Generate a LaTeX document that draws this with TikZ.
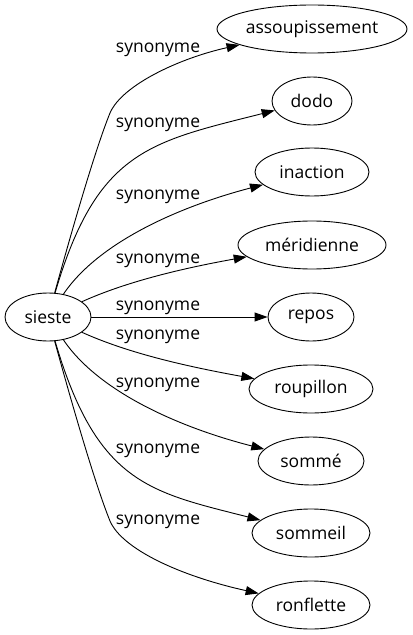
\documentclass[tikz,border=0pt]{standalone}
\usepackage{fontspec}
\setmainfont{Open Sans}
\usetikzlibrary{arrows.meta,shapes.geometric}
\begin{document}
\begin{tikzpicture}[x=1bp,y=-1bp,
  word/.style={draw,ellipse,inner sep=0pt,minimum height=48bp,line width=0.9bp,font=\fontsize{17.5bp}{20bp}\selectfont},
  lbl/.style={inner sep=0pt,font=\fontsize{17.5bp}{20bp}\selectfont},
  edge/.style={line width=0.9bp,-{Triangle[length=13bp,width=9bp]}}]
\useasboundingbox (0,0) rectangle (412,635);
\node[word,minimum width=86bp] (s) at (48,317) {sieste};
\node[word,minimum width=190bp] (a) at (312,29) {assoupissement};
\node[word,minimum width=80bp] (d) at (312,101) {dodo};
\node[word,minimum width=114bp] (i) at (312,172) {inaction};
\node[word,minimum width=148bp] (m) at (312,245) {méridienne};
\node[word,minimum width=86bp] (r) at (311,317) {repos};
\node[word,minimum width=124bp] (ro) at (311,389) {roupillon};
\node[word,minimum width=106bp] (so) at (311,461) {sommé};
\node[word,minimum width=118bp] (sl) at (311,533) {sommeil};
\node[word,minimum width=118bp] (rf) at (311,605) {ronflette};
\node[lbl] (l1) at (158,49.5) {synonyme};
\node[lbl] (l2) at (158,124.5) {synonyme};
\node[lbl] (l3) at (158,196.5) {synonyme};
\node[lbl] (l4) at (158,260.5) {synonyme};
\node[lbl] (l5) at (158,307.5) {synonyme};
\node[lbl] (l6) at (158,336.5) {synonyme};
\node[lbl] (l7) at (158,384.5) {synonyme};
\node[lbl] (l8) at (158,450.5) {synonyme};
\node[lbl] (l9) at (158,521.5) {synonyme};
\draw[edge] (s) .. controls (72,230) and (95,150) .. (110,113) .. controls (122,85) and (180,58) .. (a);
\draw[edge] (s) .. controls (97,150) and (150,142) .. (d);
\draw[edge] (s) .. controls (100,240) and (185,205) .. (i);
\draw[edge] (s) .. controls (130,280) and (190,267) .. (m);
\draw[edge] (s) -- (r);
\draw[edge] (s) .. controls (130,354) and (190,367) .. (ro);
\draw[edge] (s) .. controls (100,394) and (185,429) .. (so);
\draw[edge] (s) .. controls (97,484) and (150,492) .. (sl);
\draw[edge] (s) .. controls (72,404) and (95,484) .. (110,521) .. controls (122,549) and (180,576) .. (rf);
\end{tikzpicture}
\end{document}
